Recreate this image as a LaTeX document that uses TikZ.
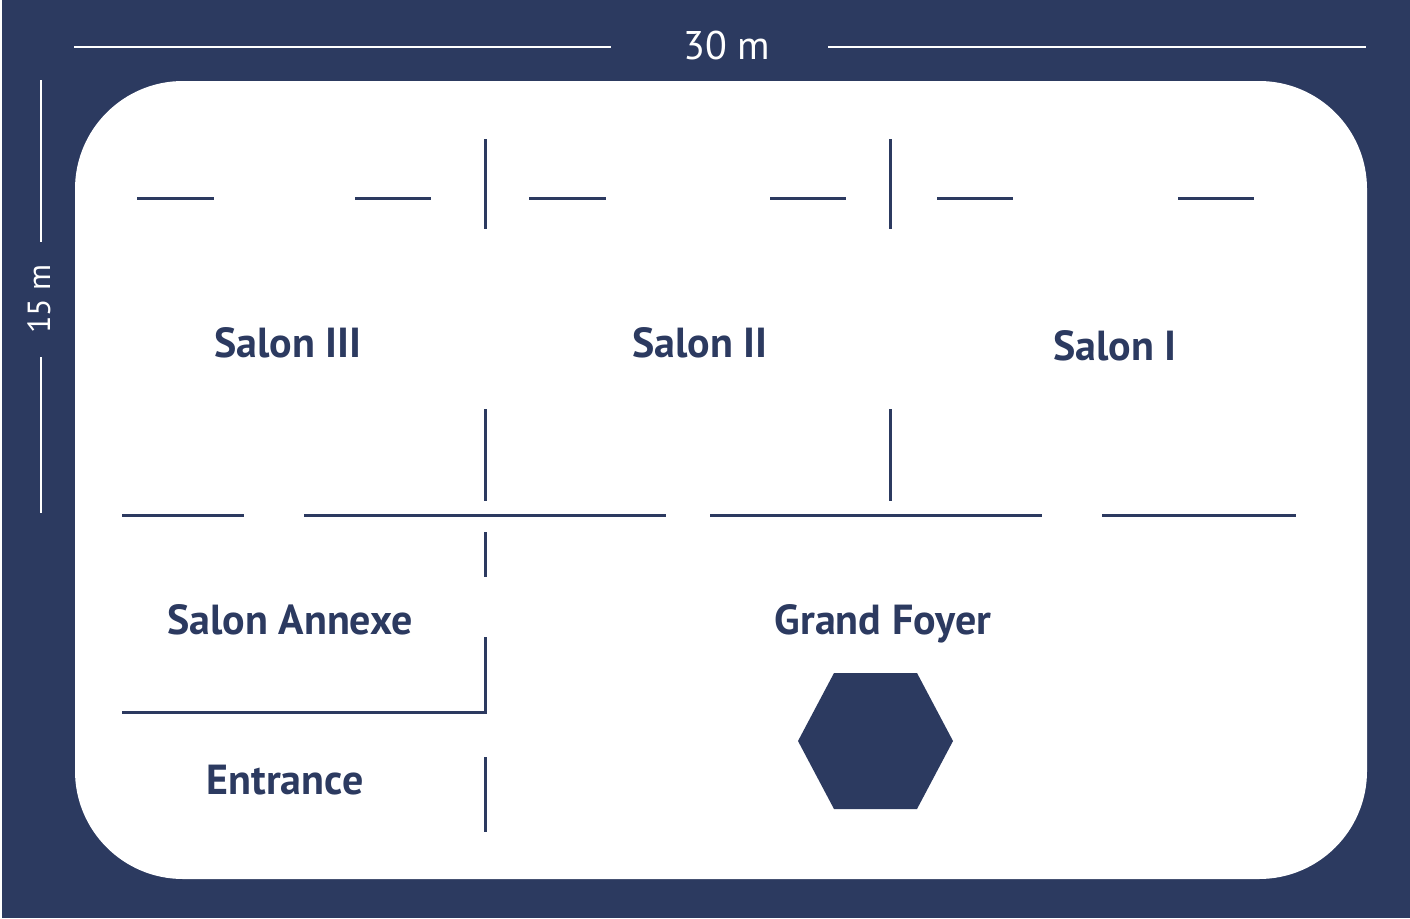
\documentclass[tikz,border=0pt]{standalone}
\usepackage{fontspec}
\setmainfont{PT Sans}
\definecolor{navy}{RGB}{44,58,96}
\tikzset{%
  wall/.style  = {draw=navy, line width=3pt},%
  dim/.style   = {draw=white, line width=2.2pt},%
  room/.style  = {text=navy, font=\fontsize{42}{48}\selectfont\bfseries, inner sep=0pt, anchor=base},%
  label/.style = {text=white, font=\fontsize{40}{46}\selectfont, inner sep=0pt, anchor=base}%
}
\begin{document}
\begin{tikzpicture}[x=1pt,y=-1pt]
  \useasboundingbox (0,0) rectangle (1410,918);
  \fill[navy] (2,0) rectangle (1410,918);
  \fill[white, rounded corners=108pt] (75,81) rectangle (1367,879);
  % dimensions
  \draw[dim] (74,47) -- (611,47);
  \draw[dim] (828,47) -- (1366,47);
  \node[label] (width) at (727,59) {30 m};
  \draw[dim] (41,80) -- (41,242);
  \draw[dim] (41,357) -- (41,513);
  \node[label, rotate=90, font=\fontsize{32}{38}\selectfont] (height) at (50,299) {15 m};
  % upper walls
  \foreach \xa/\xb in {137/214,355/431,529/606,770/846,937/1013,1178/1254}
    \draw[wall] (\xa,198) -- (\xb,198);
  \foreach \xc in {485,890} {
    \draw[wall] (\xc,139) -- (\xc,229);
    \draw[wall] (\xc,409) -- (\xc,501);
  }
  \foreach \xa/\xb in {122/244,304/666,710/1042,1102/1296}
    \draw[wall] (\xa,515) -- (\xb,515);
  % annexe
  \draw[wall] (485,532) -- (485,577);
  \draw[wall] (122,712) -- (485,712) -- (485,637);
  \draw[wall] (485,757) -- (485,832);
  % rooms
  \node[room] (salonC) at (288,357) {Salon III};
  \node[room] (salonB) at (700,357) {Salon II};
  \node[room] (salonA) at (1115,360) {Salon I};
  \node[room] (annexe) at (290,634) {Salon Annexe};
  \node[room] (foyer) at (883,634) {Grand Foyer};
  \node[room] (entrance) at (285,794) {Entrance};
  \fill[navy] (798,741) -- (834,673) -- (917,673) -- (953,741) -- (917,809) -- (834,809) -- cycle;
\end{tikzpicture}
\end{document}
